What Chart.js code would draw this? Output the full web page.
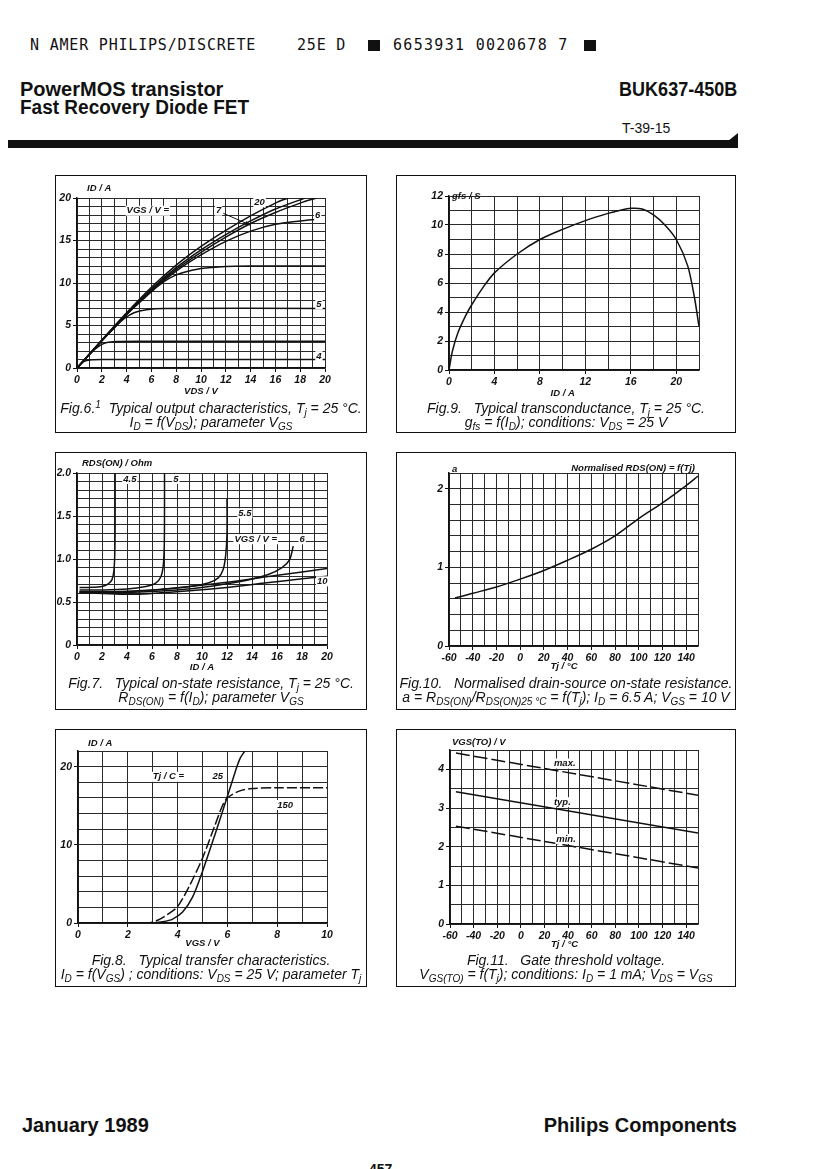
<!DOCTYPE html>
<html>
<head>
<meta charset="utf-8">
<script src="https://cdn.jsdelivr.net/npm/chart.js@4.4.1/dist/chart.umd.min.js"></script>
<style>
body { margin: 0; background: #fff; }
#page { position: relative; width: 832px; height: 1169px; overflow: hidden; font-family: "Liberation Sans", Arial, sans-serif; color: #111; background: #fff; }
.abs { position: absolute; white-space: nowrap; }
.mono { font-family: "DejaVu Sans Mono", monospace; font-size: 15px; letter-spacing: 0.8px; line-height: 15px; }
.big { font-weight: bold; font-size: 20px; line-height: 20px; }
.sq { position: absolute; background: #111; width: 12px; height: 11px; }
.box { position: absolute; border: 1.5px solid #111; box-sizing: border-box; }
.cap { position: absolute; text-align: center; font-style: italic; font-size: 14px; line-height: 14px; white-space: nowrap; }
.cap sub { font-size: 10px; vertical-align: -3px; line-height: 0; }
.cap sup { font-size: 10px; vertical-align: 5px; line-height: 0; }
canvas { position: absolute; }
</style>
</head>
<body>
<div id="page">
  <div class="abs mono" style="left:30px; top:38px;">N AMER PHILIPS/DISCRETE</div>
  <div class="abs mono" style="left:297px; top:38px;">25E D</div>
  <div class="sq" style="left:368px; top:40px;"></div>
  <div class="abs mono" style="left:393px; top:38px; letter-spacing:1.3px;">6653931 0020678 7</div>
  <div class="sq" style="left:584px; top:40px;"></div>

  <div class="abs big" style="left:20px; top:79px;">PowerMOS transistor</div>
  <div class="abs big" style="left:20px; top:97px; transform:scaleX(0.95); transform-origin:left;">Fast Recovery Diode FET</div>
  <div class="abs big" style="right:95px; top:79px; transform:scaleX(0.9); transform-origin:right;">BUK637-450B</div>
  <div class="abs" style="left:622px; top:120px; font-size:14px;">T-39-15</div>
  <div class="abs" style="left:8px; top:140px; width:730px; height:8px; background:#111;"></div>
  <div class="abs" style="left:728px; top:133px; width:0; height:0; border-left:10px solid transparent; border-bottom:8px solid #111;"></div>

  <div class="abs big" style="left:22px; top:1115px;">January 1989</div>
  <div class="abs big" style="right:95px; top:1115px;">Philips Components</div>
  <div class="abs" style="left:369px; top:1161px; font-size:14px; font-weight:bold;">457</div>
</div>

<script>
// Fig.6 output characteristics, ID vs VDS per VGS
var f6Vgs4 = [[0,0],[0.3,0.5],[0.7,0.85],[1.2,0.97],[2,1.0],[20,1.0]];
var f6Vgs45 = [[0,0],[1,1.6],[1.8,2.6],[2.4,3.0],[3.2,3.12],[5,3.15],[20,3.15]];
var f6Vgs5 = [[0,0],[1,1.6],[2,3.2],[3,4.7],[3.8,5.8],[4.6,6.5],[5.6,6.85],[7,7.0],[20,7.0]];
var f6Vgs55 = [[0,0],[2,3.2],[4,6.3],[5.5,8.3],[6.5,9.6],[7.5,10.6],[8.5,11.2],[10,11.7],[12,11.95],[14,12],[20,12]];
var f6Vgs6 = [[0,0],[2,3.2],[4,6.3],[6,9.1],[8,11.4],[10,13.3],[12,14.9],[14,16.1],[16,16.9],[18,17.3],[19.4,17.5]];
var f6Vgs7 = [[0,0],[2,3.2],[4,6.3],[6,9.2],[8,11.6],[10,13.6],[12,15.4],[14,17.0],[16,18.3],[18,19.4],[19.3,20]];
var f6Vgs10 = [[0,0],[2,3.25],[4,6.4],[6,9.3],[8,11.8],[10,13.9],[12,15.7],[14,17.3],[16,18.7],[18.4,20]];
var f6Vgs20 = [[0,0],[2,3.3],[4,6.5],[6,9.5],[8,12.1],[10,14.3],[12,16.2],[14,17.9],[16,19.4],[17,20]];

// Fig.9 transconductance gfs vs ID
var f9Gfs = [[0,0],[0.3,1.3],[0.8,2.6],[1.5,3.8],[2,4.5],[3,5.7],[4,6.7],[6,8.0],[8,9.0],[10,9.7],[12,10.3],[14,10.8],[15,11.0],[16,11.15],[17,11.1],[18,10.7],[19,10.0],[20,9.0],[21,7.2],[21.6,5.0],[22,3.0]];

// Fig.7 RDS(ON) vs ID per VGS
var f7Vgs45 = [[0.2,0.67],[1,0.67],[2,0.68],[2.5,0.71],[2.8,0.76],[2.95,0.86],[3.02,1.05],[3.05,1.4],[3.05,2.0]];
var f7Vgs5 = [[0.2,0.64],[2,0.64],[4,0.65],[5.5,0.68],[6.3,0.72],[6.7,0.79],[6.9,0.92],[6.98,1.15],[7.0,1.5],[7.0,2.0]];
var f7Vgs55 = [[0.2,0.62],[4,0.62],[7,0.65],[9,0.68],[10.5,0.72],[11.3,0.78],[11.7,0.88],[11.9,1.05],[12.0,1.3],[12.0,1.7]];
var f7Vgs6 = [[0.2,0.61],[4,0.61],[8,0.64],[11,0.69],[13.5,0.75],[15.3,0.82],[16.4,0.9],[17.0,0.99],[17.3,1.15]];
var f7Vgs8 = [[0.2,0.62],[3,0.62],[6,0.64],[9,0.68],[12,0.73],[15,0.79],[18,0.85],[20,0.89]];
var f7Vgs10 = [[0.2,0.61],[2,0.6],[4,0.59],[6,0.6],[9,0.63],[12,0.67],[15,0.72],[18,0.77],[20,0.8]];

// Fig.10 normalised RDS(ON) vs Tj
var f10A = [[-55,0.61],[-40,0.67],[-20,0.75],[0,0.85],[20,0.96],[40,1.09],[60,1.23],[80,1.4],[100,1.62],[120,1.82],[140,2.04],[150,2.16]];

// Fig.8 transfer characteristics ID vs VGS
var f8T25 = [[0,0],[3,0],[3.4,0.15],[3.8,0.5],[4.2,1.4],[4.6,3.3],[5,6.6],[5.5,11.3],[6,16.2],[6.3,19.2],[6.5,21],[6.7,22]];
var f8T150 = [[0,0],[2.8,0],[3.2,0.35],[3.6,1.1],[4,2.1],[4.5,4.9],[5,8.3],[5.5,12.5],[5.8,15],[6,16],[6.5,16.9],[7,17.2],[8,17.3],[10,17.3]];

// Fig.11 gate threshold voltage vs Tj
var f11Max = [[-55,4.42],[150,3.33]];
var f11Typ = [[-55,3.42],[150,2.35]];
var f11Min = [[-55,2.53],[150,1.45]];

var page = document.getElementById('page');
var INK = '#111';
var noteFont = 'italic bold 9.5px "Liberation Sans", Arial, sans-serif';

function addBox(box) {
    var d = document.createElement('div');
    d.className = 'box';
    d.style.left = box[0] + 'px';
    d.style.top = box[1] + 'px';
    d.style.width = (box[2] - box[0]) + 'px';
    d.style.height = (box[3] - box[1]) + 'px';
    page.appendChild(d);
}

function addCaption(box, y, html) {
    var d = document.createElement('div');
    d.className = 'cap';
    d.style.left = box[0] + 'px';
    d.style.width = (box[2] - box[0]) + 'px';
    d.style.top = y + 'px';
    d.innerHTML = html;
    page.appendChild(d);
}

function drawNotes(chart, o) {
    var ctx = chart.ctx, xs = chart.scales.x, ys = chart.scales.y, ca = chart.chartArea;
    ctx.save();
    ctx.font = noteFont;
    ctx.textBaseline = 'middle';
    (o.notes || []).forEach(function (n) {
        var px = xs.getPixelForValue(n[1]), py = ys.getPixelForValue(n[2]);
        var w = ctx.measureText(n[0]).width;
        var x0 = n[3] === 'right' ? px - w : px;
        ctx.fillStyle = '#fff';
        ctx.fillRect(x0 - 1, py - 5, w + 2, 10);
        ctx.fillStyle = INK;
        ctx.textAlign = 'left';
        ctx.fillText(n[0], x0, py);
    });
    (o.arrows || []).forEach(function (a) {
        var x1 = xs.getPixelForValue(a[0]), y1 = ys.getPixelForValue(a[1]);
        var x2 = xs.getPixelForValue(a[2]), y2 = ys.getPixelForValue(a[3]);
        var ang = Math.atan2(y2 - y1, x2 - x1);
        ctx.strokeStyle = INK;
        ctx.lineWidth = 1;
        ctx.beginPath();
        ctx.moveTo(x1, y1);
        ctx.lineTo(x2, y2);
        ctx.stroke();
        ctx.beginPath();
        ctx.moveTo(x2, y2);
        ctx.lineTo(x2 - 6 * Math.cos(ang - 0.35), y2 - 6 * Math.sin(ang - 0.35));
        ctx.lineTo(x2 - 6 * Math.cos(ang + 0.35), y2 - 6 * Math.sin(ang + 0.35));
        ctx.closePath();
        ctx.fillStyle = INK;
        ctx.fill();
    });
    ctx.textBaseline = 'alphabetic';
    ctx.fillStyle = INK;
    if (o.yTitle) {
        ctx.textAlign = 'left';
        ctx.fillText(o.yTitle[0], ca.left + o.yTitle[1], ca.top + o.yTitle[2]);
    }
    if (o.topRight) {
        ctx.textAlign = 'right';
        ctx.fillText(o.topRight, ca.right - 3, ca.top - 2);
    }
    if (o.xTitle) {
        ctx.textAlign = 'center';
        ctx.fillText(o.xTitle[0], xs.getPixelForValue(o.xTitle[1]), ca.bottom + o.xTitle[2]);
    }
    ctx.restore();
}

function axis(min, max, step, isLabel, fmt, fitter) {
    return {
        type: 'linear',
        min: min,
        max: max,
        ticks: {
            stepSize: step,
            autoSkip: false,
            maxRotation: 0,
            padding: 2,
            color: INK,
            font: { family: '"Liberation Sans", Arial, sans-serif', size: 10.5, style: 'italic', weight: 'bold' },
            callback: function (v) { return isLabel(v) ? (fmt ? fmt(v) : v) : ''; }
        },
        grid: {
            color: '#2a2a2a',
            lineWidth: 1,
            tickLength: 4,
            tickColor: function (c) { return c.tick && isLabel(c.tick.value) ? INK : 'rgba(0,0,0,0)'; }
        },
        border: { color: INK, width: 1.5 },
        afterFit: fitter
    };
}

function every(n) {
    return function (v) { return Math.abs(v / n - Math.round(v / n)) < 1e-6; };
}

function plotChart(box, plot, o) {
    addBox(box);
    var cl = box[0] + 2, ct = box[1] + 2;
    var cw = box[2] - box[0] - 4, ch = plot[3] + 32 - ct;
    var cv = document.createElement('canvas');
    cv.width = cw;
    cv.height = ch;
    cv.style.left = cl + 'px';
    cv.style.top = ct + 'px';
    cv.style.width = cw + 'px';
    cv.style.height = ch + 'px';
    page.appendChild(cv);

    var datasets = o.series.map(function (s) {
        return {
            data: s.pts.map(function (p) { return { x: p[0], y: p[1] }; }),
            showLine: true,
            borderColor: INK,
            borderWidth: 1.5,
            borderDash: s.dash || [],
            pointRadius: 0,
            tension: s.tension === undefined ? 0.3 : s.tension,
            fill: false
        };
    });

    var x = o.x, y = o.y;
    new Chart(cv, {
        type: 'scatter',
        data: { datasets: datasets },
        options: {
            responsive: false,
            animation: false,
            events: [],
            layout: { padding: { top: plot[1] - ct, right: cl + cw - plot[2], left: 0, bottom: 0 } },
            plugins: { legend: { display: false }, tooltip: { enabled: false } },
            scales: {
                x: axis(x[0], x[1], x[2], x[3], x[4], function (s) { s.height = ct + ch - plot[3]; }),
                y: axis(y[0], y[1], y[2], y[3], y[4], function (s) { s.width = plot[0] - cl; })
            }
        },
        plugins: [{ id: 'notes', afterDatasetsDraw: function (chart) { drawNotes(chart, o); } }]
    });
}

// Fig.6
var box6 = [55, 175, 367, 433];
plotChart(box6, [77, 198, 325, 368], {
    x: [0, 20, 1, every(2)],
    y: [0, 20, 1, every(5)],
    series: [{ pts: f6Vgs4 }, { pts: f6Vgs45 }, { pts: f6Vgs5 }, { pts: f6Vgs55 }, { pts: f6Vgs6 }, { pts: f6Vgs7 }, { pts: f6Vgs10 }, { pts: f6Vgs20 }],
    notes: [['VGS / V =', 4.0, 18.5], ['20', 14.3, 19.5], ['7', 11.2, 18.5], ['6', 19.2, 17.9], ['5', 19.3, 7.5], ['4', 19.3, 1.4]],
    arrows: [[11.8, 18.2, 14.0, 16.8]],
    yTitle: ['ID / A', 10, -7],
    xTitle: ['VDS / V', 10, 26]
});
addCaption(box6, 401, 'Fig.6.<sup>1</sup>&nbsp;&nbsp;Typical output characteristics, T<sub>j</sub> = 25 \u00b0C.<br>I<sub>D</sub> = f(V<sub>DS</sub>); parameter V<sub>GS</sub>');

// Fig.9
var box9 = [396, 175, 736, 433];
plotChart(box9, [449, 196, 699, 370], {
    x: [0, 22, 2, every(4)],
    y: [0, 12, 1, every(2)],
    series: [{ pts: f9Gfs }],
    yTitle: ['gfs / S', 3, 3],
    xTitle: ['ID / A', 10, 26]
});
addCaption(box9, 401, 'Fig.9.&nbsp;&nbsp;&nbsp;Typical transconductance, T<sub>j</sub> = 25 \u00b0C.<br>g<sub>fs</sub> = f(I<sub>D</sub>); conditions: V<sub>DS</sub> = 25 V');

// Fig.7
var box7 = [55, 452, 367, 710];
plotChart(box7, [77, 473, 327, 645], {
    x: [0, 20, 1, every(2)],
    y: [0, 2, 0.1, every(0.5), function (v) { return v === 0 ? '0' : v.toFixed(1); }],
    series: [{ pts: f7Vgs45 }, { pts: f7Vgs5 }, { pts: f7Vgs55 }, { pts: f7Vgs6 }, { pts: f7Vgs8 }, { pts: f7Vgs10 }],
    notes: [['4.5', 3.7, 1.93], ['5', 7.7, 1.93], ['5.5', 12.9, 1.53], ['VGS / V =', 12.6, 1.23], ['6', 17.8, 1.23], ['10', 19.2, 0.74]],
    yTitle: ['RDS(ON) / Ohm', 5, -7],
    xTitle: ['ID / A', 10, 25]
});
addCaption(box7, 676, 'Fig.7.&nbsp;&nbsp;&nbsp;Typical on-state resistance, T<sub>j</sub> = 25 \u00b0C.<br>R<sub>DS(ON)</sub> = f(I<sub>D</sub>); parameter V<sub>GS</sub>');

// Fig.10
var box10 = [396, 452, 736, 710];
plotChart(box10, [449, 473, 698, 646], {
    x: [-60, 150, 10, every(20)],
    y: [0, 2.2, 0.2, every(1)],
    series: [{ pts: f10A }],
    yTitle: ['a', 3, -1],
    topRight: 'Normalised RDS(ON) = f(Tj)',
    xTitle: ['Tj / \u00b0C', 37, 23]
});
addCaption(box10, 676, 'Fig.10.&nbsp;&nbsp;&nbsp;Normalised drain-source on-state resistance.<br>a = R<sub>DS(ON)</sub>/R<sub>DS(ON)25 \u00b0C</sub> = f(T<sub>j</sub>); I<sub>D</sub> = 6.5 A; V<sub>GS</sub> = 10 V');

// Fig.8
var box8 = [55, 729, 367, 987];
plotChart(box8, [78, 751, 327, 923], {
    x: [0, 10, 1, every(2)],
    y: [0, 22, 2, every(10)],
    series: [{ pts: f8T25 }, { pts: f8T150, dash: [10, 3] }],
    notes: [['Tj / C =', 3.0, 18.7], ['25', 5.4, 18.7], ['150', 8.0, 15.1]],
    yTitle: ['ID / A', 10, -5],
    xTitle: ['VGS / V', 5, 23]
});
addCaption(box8, 953, 'Fig.8.&nbsp;&nbsp;&nbsp;Typical transfer characteristics.<br>I<sub>D</sub> = f(V<sub>GS</sub>) ; conditions: V<sub>DS</sub> = 25 V; parameter T<sub>j</sub>');

// Fig.11
var box11 = [396, 729, 736, 987];
plotChart(box11, [450, 750, 698, 924], {
    x: [-60, 150, 10, every(20)],
    y: [0, 4.5, 0.5, every(1)],
    series: [{ pts: f11Max, dash: [14, 4], tension: 0 }, { pts: f11Typ, tension: 0 }, { pts: f11Min, dash: [14, 4], tension: 0 }],
    notes: [['max.', 28, 4.15], ['typ.', 28, 3.15], ['min.', 30, 2.2]],
    yTitle: ['VGS(TO) / V', 2, -5],
    xTitle: ['Tj / \u00b0C', 37, 23]
});
addCaption(box11, 953, 'Fig.11.&nbsp;&nbsp;&nbsp;Gate threshold voltage.<br>V<sub>GS(TO)</sub> = f(T<sub>j</sub>); conditions: I<sub>D</sub> = 1 mA; V<sub>DS</sub> = V<sub>GS</sub>');
</script>
</body>
</html>
